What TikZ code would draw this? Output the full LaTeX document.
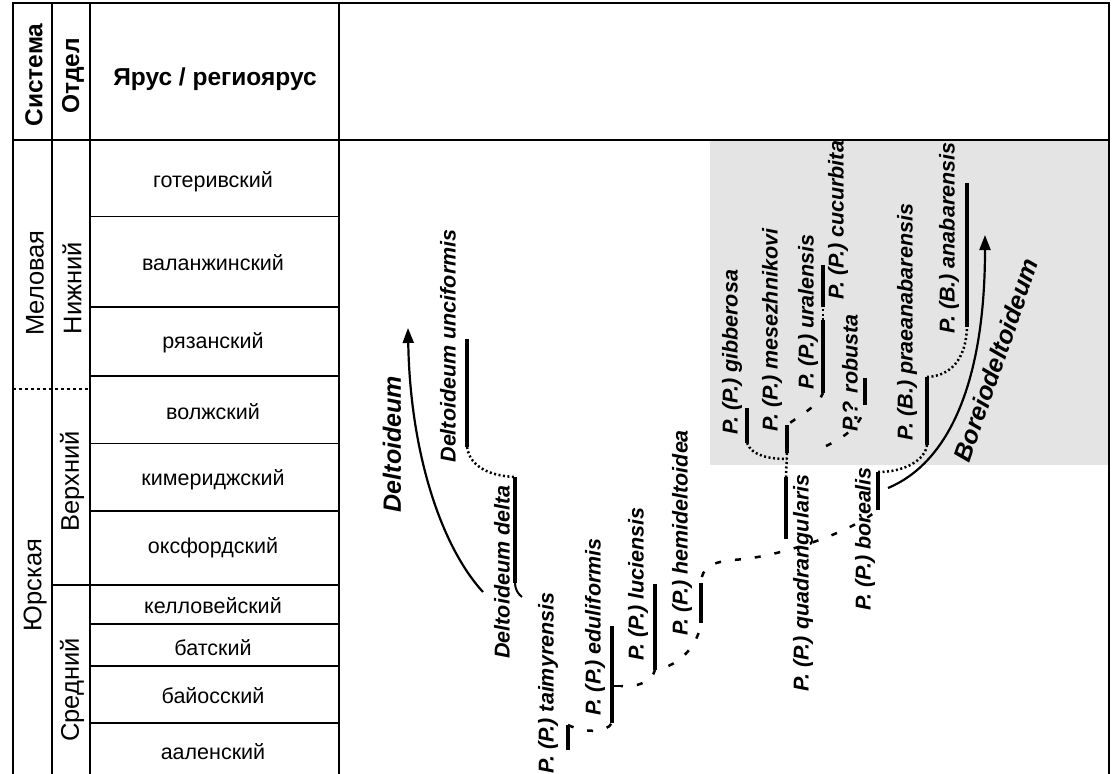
\documentclass[tikz,border=0pt]{standalone}
\usepackage{fontspec}
\setmainfont{Liberation Sans}
\usetikzlibrary{arrows.meta}
\definecolor{boxgray}{RGB}{228,228,228}
\begin{document}
\begin{tikzpicture}[x=1pt,y=-1pt,
  frameline/.style={line width=1.6pt},
  stageline/.style={line width=1.4pt},
  hdr/.style={font=\fontsize{24.5}{28}\selectfont\bfseries, inner sep=0pt},
  unitlab/.style={font=\fontsize{25.5}{28}\selectfont, inner sep=0pt, rotate=90},
  stagelab/.style={font=\fontsize{21.5}{24}\selectfont, inner sep=0pt},
  sp/.style={font=\fontsize{21.5}{24}\selectfont\bfseries\itshape, inner sep=0pt, rotate=90},
  genus/.style={font=\fontsize{25}{28}\selectfont\bfseries\itshape, inner sep=0pt},
  bar/.style={line width=4.5pt},
  dotc/.style={line width=2.5pt, dash pattern=on 2pt off 2.5pt},
  dashc/.style={line width=2.5pt, dash pattern=on 6pt off 14pt},
  hook/.style={line width=2pt},
  trend/.style={line width=2.2pt, -{Triangle[length=15pt,width=11pt]}},
]
\useasboundingbox (0,0) rectangle (1112,774);
% shaded area
\fill[boxgray] (710,141) rectangle (1109,465);
% table frame
\draw[frameline] (13,774) -- (13,3) -- (1109,3) -- (1109,774);
\draw[frameline] (52,3) -- (52,774);
\draw[frameline] (90,3) -- (90,774);
\draw[frameline] (339,3) -- (339,774);
\draw[frameline] (13,140) -- (1109,140);
\foreach \yy in {307,376,511,624,666,723} \draw[stageline] (90,\yy) -- (339,\yy);
\foreach \yy in {216,443} \draw[line width=1pt] (90,\yy) -- (339,\yy);
\draw[stageline] (52,585) -- (339,585);
\draw[line width=1.2pt, dash pattern=on 3pt off 3pt] (13,389) -- (90,389);
% header texts
\node[hdr, rotate=90] (sys) at (34,75) {Система};
\node[hdr, rotate=90] (otd) at (73,76) {Отдел};
\node[hdr] (yarus) at (215,79) {Ярус / региоярус};
% system / series
\node[unitlab] (mel) at (35,283) {Меловая};
\node[unitlab] (yur) at (35,585) {Юрская};
\node[unitlab] (nizh) at (72,288) {Нижний};
\node[unitlab] (verkh) at (72,481) {Верхний};
\node[unitlab] (sred) at (72,690) {Средний};
% stages
\node[stagelab] (s1) at (213,182) {готеривский};
\node[stagelab] (s2) at (213,263) {валанжинский};
\node[stagelab] (s3) at (213,343) {рязанский};
\node[stagelab] (s4) at (213,412) {волжский};
\node[stagelab] (s5) at (213,480) {кимериджский};
\node[stagelab] (s6) at (213,548) {оксфордский};
\node[stagelab] (s7) at (213,606) {келловейский};
\node[stagelab] (s8) at (213,648) {батский};
\node[stagelab] (s9) at (213,696) {байосский};
\node[stagelab] (s10) at (213,752) {ааленский};
% bar end points
\coordinate (unc-t) at (467,339);  \coordinate (unc-b) at (467,447);
\coordinate (del-t) at (515,477);  \coordinate (del-b) at (515,583);
\coordinate (tai-t) at (568,725);  \coordinate (tai-b) at (568,750);
\coordinate (edu-t) at (612,626);  \coordinate (edu-b) at (612,723);
\coordinate (luc-t) at (655,584);  \coordinate (luc-b) at (655,670);
\coordinate (hem-t) at (701,583);  \coordinate (hem-b) at (701,623);
\coordinate (gib-t) at (747,408);  \coordinate (gib-b) at (747,443);
\coordinate (mes-t) at (787,425);  \coordinate (mes-b) at (787,453);
\coordinate (qua-t) at (786,477);  \coordinate (qua-b) at (786,539);
\coordinate (ura-t) at (823,320);  \coordinate (ura-b) at (823,393);
\coordinate (cuc-t) at (823,265);  \coordinate (cuc-b) at (823,307);
\coordinate (rob-t) at (865,378);  \coordinate (rob-b) at (865,405);
\coordinate (bor-t) at (878,472);  \coordinate (bor-b) at (878,510);
\coordinate (pra-t) at (927,377);  \coordinate (pra-b) at (927,445);
\coordinate (ana-t) at (967,183);  \coordinate (ana-b) at (967,327);
\coordinate (edu-m) at (612,686);  \coordinate (edu-k) at (621,686);
\coordinate (del-h) at (522,597);
\coordinate (gib-j) at (787,459);
\coordinate (rob-s) at (826,446);
\coordinate (del-s) at (483,592);  \coordinate (del-e) at (408,328);
\coordinate (bor-s) at (888,488);  \coordinate (bor-e) at (985,235);
% bars
\foreach \s in {unc,del,tai,edu,luc,hem,gib,mes,qua,ura,cuc,rob,bor,pra,ana}
  \draw[bar] (\s-t) -- (\s-b);
% connectors
\draw[dotc] (unc-b) .. controls (470,468) and (492,476) .. (del-t);
\draw[hook] (del-b) .. controls (515,589) and (518,594) .. (del-h);
\draw[dashc] (tai-t) .. controls (585,733) and (606,733) .. (edu-b);
\draw[hook] (edu-m) -- (edu-k);
\draw[dashc, dash phase=4pt] (edu-k) .. controls (635,688) and (652,682) .. (luc-b);
\draw[dashc, dash phase=6pt] (luc-b) .. controls (680,666) and (698,645) .. (hem-b);
\draw[dashc, dash phase=14pt] (hem-t) .. controls (702,562) and (720,561) .. (745,559)
   .. controls (790,553) and (850,532) .. (bor-b);
\draw[dotc] (gib-b) .. controls (752,456) and (770,459) .. (gib-j);
\draw[dotc] (mes-b) -- (qua-t);
\draw[dashc, dash phase=-4pt] (mes-t) .. controls (802,414) and (818,406) .. (ura-b);
\draw[dotc] (ura-t) -- (cuc-b);
\draw[dashc] (rob-s) .. controls (845,437) and (862,425) .. (rob-b);
\draw[dotc] (bor-t) .. controls (905,472) and (925,460) .. (pra-b);
\draw[dotc] (pra-t) .. controls (950,376) and (966,360) .. (ana-b);
\draw[trend] (del-s) .. controls (440,545) and (410,450) .. (del-e);
\draw[trend] (bor-s) .. controls (950,462) and (985,380) .. (bor-e);
% genus labels
\node[genus, rotate=90] (g-del) at (392,444) {Deltoideum};
\node[genus, rotate=71] (g-bor) at (996,360) {Boreiodeltoideum};
% species labels
\node[sp] (l-unc) at (448,346) {Deltoideum unciformis};
\node[sp] (l-del) at (502,572) {Deltoideum delta};
\node[sp] (l-tai) at (548,683) {P. (P.) taimyrensis};
\node[sp] (l-edu) at (595,627) {P. (P.) eduliformis};
\node[sp] (l-luc) at (638,584) {P. (P.) luciensis};
\node[sp] (l-hem) at (682,533) {P. (P.) hemideltoidea};
\node[sp] (l-gib) at (732,352) {P. (P.) gibberosa};
\node[sp] (l-mes) at (772,330) {P. (P.) mesezhnikovi};
\node[sp] (l-ura) at (808,312) {P. (P.) uralensis};
\node[sp] (l-cuc) at (838,220) {P. (P.) cucurbita};
\node[sp] (l-rob) at (850,373) {P.? robusta};
\node[sp] (l-qua) at (803,583) {P. (P.) quadrangularis};
\node[sp] (l-bor) at (865,539) {P. (P.) borealis};
\node[sp] (l-pra) at (907,322) {P. (B.) praeanabarensis};
\node[sp] (l-ana) at (949,238) {P. (B.) anabarensis};
\end{tikzpicture}
\end{document}
